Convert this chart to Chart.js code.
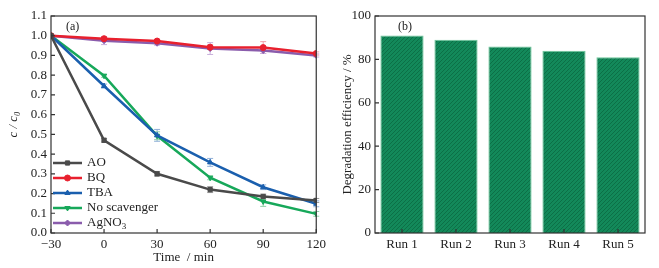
<!DOCTYPE html>
<html>
<head>
<meta charset="utf-8">
<script src="https://cdn.jsdelivr.net/npm/chart.js@4.4.1/dist/chart.umd.min.js"></script>
<style>
  html, body { margin: 0; padding: 0; background: #fff; }
  #wrap { width: 659px; height: 268px; position: relative; }
  .box { position: absolute; top: 0; height: 268px; }
</style>
</head>
<body>
<div id="wrap">
  <div class="box" style="left:0;width:330px"><canvas id="chartA"></canvas></div>
  <div class="box" style="left:330px;width:329px"><canvas id="chartB"></canvas></div>
</div>
<script>
var times = [-30, 0, 30, 60, 90, 120];
var seriesNames = ["AO", "BQ", "TBA", "No scavenger", "AgNO3"];
var aoValues = [1.0, 0.47, 0.30, 0.22, 0.185, 0.165];
var bqValues = [1.0, 0.985, 0.973, 0.942, 0.94, 0.91];
var tbaValues = [1.0, 0.745, 0.495, 0.358, 0.232, 0.148];
var noScavValues = [1.0, 0.797, 0.493, 0.28, 0.16, 0.097];
var agno3Values = [1.0, 0.975, 0.962, 0.935, 0.925, 0.90];
var aoErr = [0, 0.01, 0.012, 0.015, 0.012, 0.01];
var bqErr = [0, 0.01, 0.008, 0.012, 0.03, 0.008];
var tbaErr = [0, 0.01, 0.03, 0.02, 0.012, 0.015];
var noScavErr = [0, 0.008, 0.02, 0.01, 0.025, 0.012];
var agno3Err = [0, 0.02, 0.01, 0.03, 0.015, 0.008];
var runLabels = ["Run 1", "Run 2", "Run 3", "Run 4", "Run 5"];
var efficiency = [91, 89, 86, 84, 81];

var FONT = "'Liberation Serif', 'DejaVu Serif', serif";
Chart.defaults.font.family = FONT;
Chart.defaults.font.size = 13;
Chart.defaults.color = "#222";

function pts(vals) {
    return times.map(function (t, i) { return { x: t, y: vals[i] }; });
}

// inward ticks + frame around plot area
var frameTicks = {
    id: 'frameTicks',
    afterDraw: function (chart) {
        var ctx = chart.ctx, a = chart.chartArea;
        var xs = chart.scales.x, ys = chart.scales.y;
        ctx.save();
        ctx.strokeStyle = "#333";
        ctx.lineWidth = 1.2;
        ctx.strokeRect(a.left, a.top, a.right - a.left, a.bottom - a.top);
        ctx.beginPath();
        xs.ticks.forEach(function (t, i) {
            var px = xs.getPixelForTick(i);
            ctx.moveTo(px, a.bottom);
            ctx.lineTo(px, a.bottom - 4);
        });
        ys.ticks.forEach(function (t, i) {
            var py = ys.getPixelForTick(i);
            ctx.moveTo(a.left, py);
            ctx.lineTo(a.left + 4, py);
        });
        ctx.stroke();
        var lbl = chart.options.plugins.panelLabel;
        if (lbl) {
            ctx.fillStyle = "#222";
            ctx.font = "12px " + FONT;
            ctx.textBaseline = "middle";
            ctx.fillText(lbl, a.left + (chart.canvas.id === 'chartA' ? 15 : 23), a.top + 11);
        }
        ctx.restore();
    }
};

// error bars from the err arrays
var errorBars = {
    id: 'errorBars',
    beforeDatasetsDraw: function (chart) {
        var ctx = chart.ctx, xs = chart.scales.x, ys = chart.scales.y;
        ctx.save();
        chart.data.datasets.forEach(function (ds) {
            ctx.strokeStyle = ds.errColor;
            ctx.lineWidth = 1;
            ds.data.forEach(function (p, i) {
                var e = ds.err[i];
                if (!e) return;
                var px = xs.getPixelForValue(p.x);
                var y1 = ys.getPixelForValue(p.y - e), y2 = ys.getPixelForValue(p.y + e);
                ctx.beginPath();
                ctx.moveTo(px, y1); ctx.lineTo(px, y2);
                ctx.moveTo(px - 3, y1); ctx.lineTo(px + 3, y1);
                ctx.moveTo(px - 3, y2); ctx.lineTo(px + 3, y2);
                ctx.stroke();
            });
        });
        ctx.restore();
    }
};

// legend inside the plot
var innerLegend = {
    id: 'innerLegend',
    afterDraw: function (chart) {
        var ctx = chart.ctx, a = chart.chartArea;
        ctx.save();
        ctx.font = "13px " + FONT;
        ctx.textBaseline = "middle";
        chart.data.datasets.forEach(function (ds, i) {
            var y = a.top + 147 + i * 15;
            var x0 = a.left + 2, x1 = a.left + 31;
            ctx.strokeStyle = ds.borderColor;
            ctx.lineWidth = 2.5;
            ctx.beginPath(); ctx.moveTo(x0, y); ctx.lineTo(x1, y); ctx.stroke();
            ctx.fillStyle = ds.borderColor;
            ctx.lineWidth = 1;
            Chart.helpers.drawPoint(ctx, {
                pointStyle: ds.pointStyle, radius: 3, rotation: ds.rotation || 0, borderWidth: 1
            }, (x0 + x1) / 2, y);
            ctx.fillStyle = "#222";
            var name = ds.label;
            var tx = a.left + 36;
            if (name === "AgNO3") {
                ctx.fillText("AgNO", tx, y);
                var w = ctx.measureText("AgNO").width;
                ctx.font = "9px " + FONT;
                ctx.fillText("3", tx + w, y + 4);
                ctx.font = "13px " + FONT;
            } else {
                ctx.fillText(name, tx, y);
            }
        });
        ctx.restore();
    }
};

function lineDs(name, vals, err, color, errColor, style, rot) {
    return {
        label: name,
        data: pts(vals),
        err: err,
        errColor: errColor,
        borderColor: color,
        backgroundColor: color,
        borderWidth: 2.5,
        pointStyle: style,
        rotation: rot || 0,
        pointRadius: 3,
        pointBorderWidth: 1,
        tension: 0
    };
}

new Chart(document.getElementById("chartA"), {
    type: 'line',
    data: {
        datasets: [
            lineDs(seriesNames[0], aoValues, aoErr, "#4a4a4a", "#999", 'rect'),
            lineDs(seriesNames[1], bqValues, bqErr, "#e8202e", "#f0a0a8", 'circle'),
            lineDs(seriesNames[2], tbaValues, tbaErr, "#1a5fae", "#90b0d8", 'triangle'),
            lineDs(seriesNames[3], noScavValues, noScavErr, "#17a85a", "#90d0a8", 'triangle', 180),
            lineDs(seriesNames[4], agno3Values, agno3Err, "#8a5cac", "#c8b0dc", 'rectRot')
        ]
    },
    options: {
        responsive: true,
        maintainAspectRatio: false,
        animation: false,
        layout: { padding: { top: 16, right: 13, left: 6, bottom: 0 } },
        plugins: { legend: { display: false }, tooltip: { enabled: false }, panelLabel: "(a)" },
        scales: {
            x: {
                type: 'linear', min: -30, max: 120,
                ticks: { stepSize: 30, padding: 4, callback: function (v) { return v < 0 ? "\u2212" + Math.abs(v) : v; } },
                grid: { display: false, drawTicks: false },
                border: { display: false },
                title: { display: true, text: "Time  / min", padding: { top: 0, bottom: 3 } },
                afterFit: function (s) { s.height = 35; }
            },
            y: {
                min: 0, max: 1.1,
                ticks: { stepSize: 0.1, padding: 4, callback: function (v) { return v.toFixed(1); } },
                grid: { display: false, drawTicks: false },
                border: { display: false },
                title: { display: true, text: "c / c\u2080", font: { style: 'italic' }, padding: { top: 0, bottom: 2 } },
                afterFit: function (s) { s.width = 45; }
            }
        }
    },
    plugins: [errorBars, frameTicks, innerLegend]
});

// hatched green fill for the bars
function hatch() {
    var c = document.createElement('canvas');
    c.width = 4; c.height = 4;
    var g = c.getContext('2d');
    g.fillStyle = "#13895a";
    g.fillRect(0, 0, 4, 4);
    g.strokeStyle = "#0c7046";
    g.lineWidth = 1;
    g.beginPath();
    g.moveTo(0, 4); g.lineTo(4, 0);
    g.stroke();
    return g.createPattern(c, 'repeat');
}

new Chart(document.getElementById("chartB"), {
    type: 'bar',
    data: {
        labels: runLabels,
        datasets: [{
            label: "Degradation efficiency",
            data: efficiency,
            backgroundColor: hatch(),
            borderColor: "#6cc89a",
            borderWidth: 1,
            categoryPercentage: 1,
            barPercentage: 0.8
        }]
    },
    options: {
        responsive: true,
        maintainAspectRatio: false,
        animation: false,
        layout: { padding: { top: 16, right: 14, left: 10, bottom: 0 } },
        plugins: { legend: { display: false }, tooltip: { enabled: false }, panelLabel: "(b)" },
        scales: {
            x: {
                ticks: { padding: 4 },
                grid: { display: false, drawTicks: false },
                border: { display: false },
                afterFit: function (s) { s.height = 35; }
            },
            y: {
                min: 0, max: 100,
                ticks: { stepSize: 20, padding: 4 },
                grid: { display: false, drawTicks: false },
                border: { display: false },
                title: { display: true, text: "Degradation efficiency / %", padding: { top: 0, bottom: 2 } },
                afterFit: function (s) { s.width = 35; }
            }
        }
    },
    plugins: [frameTicks]
});
</script>
</body>
</html>
